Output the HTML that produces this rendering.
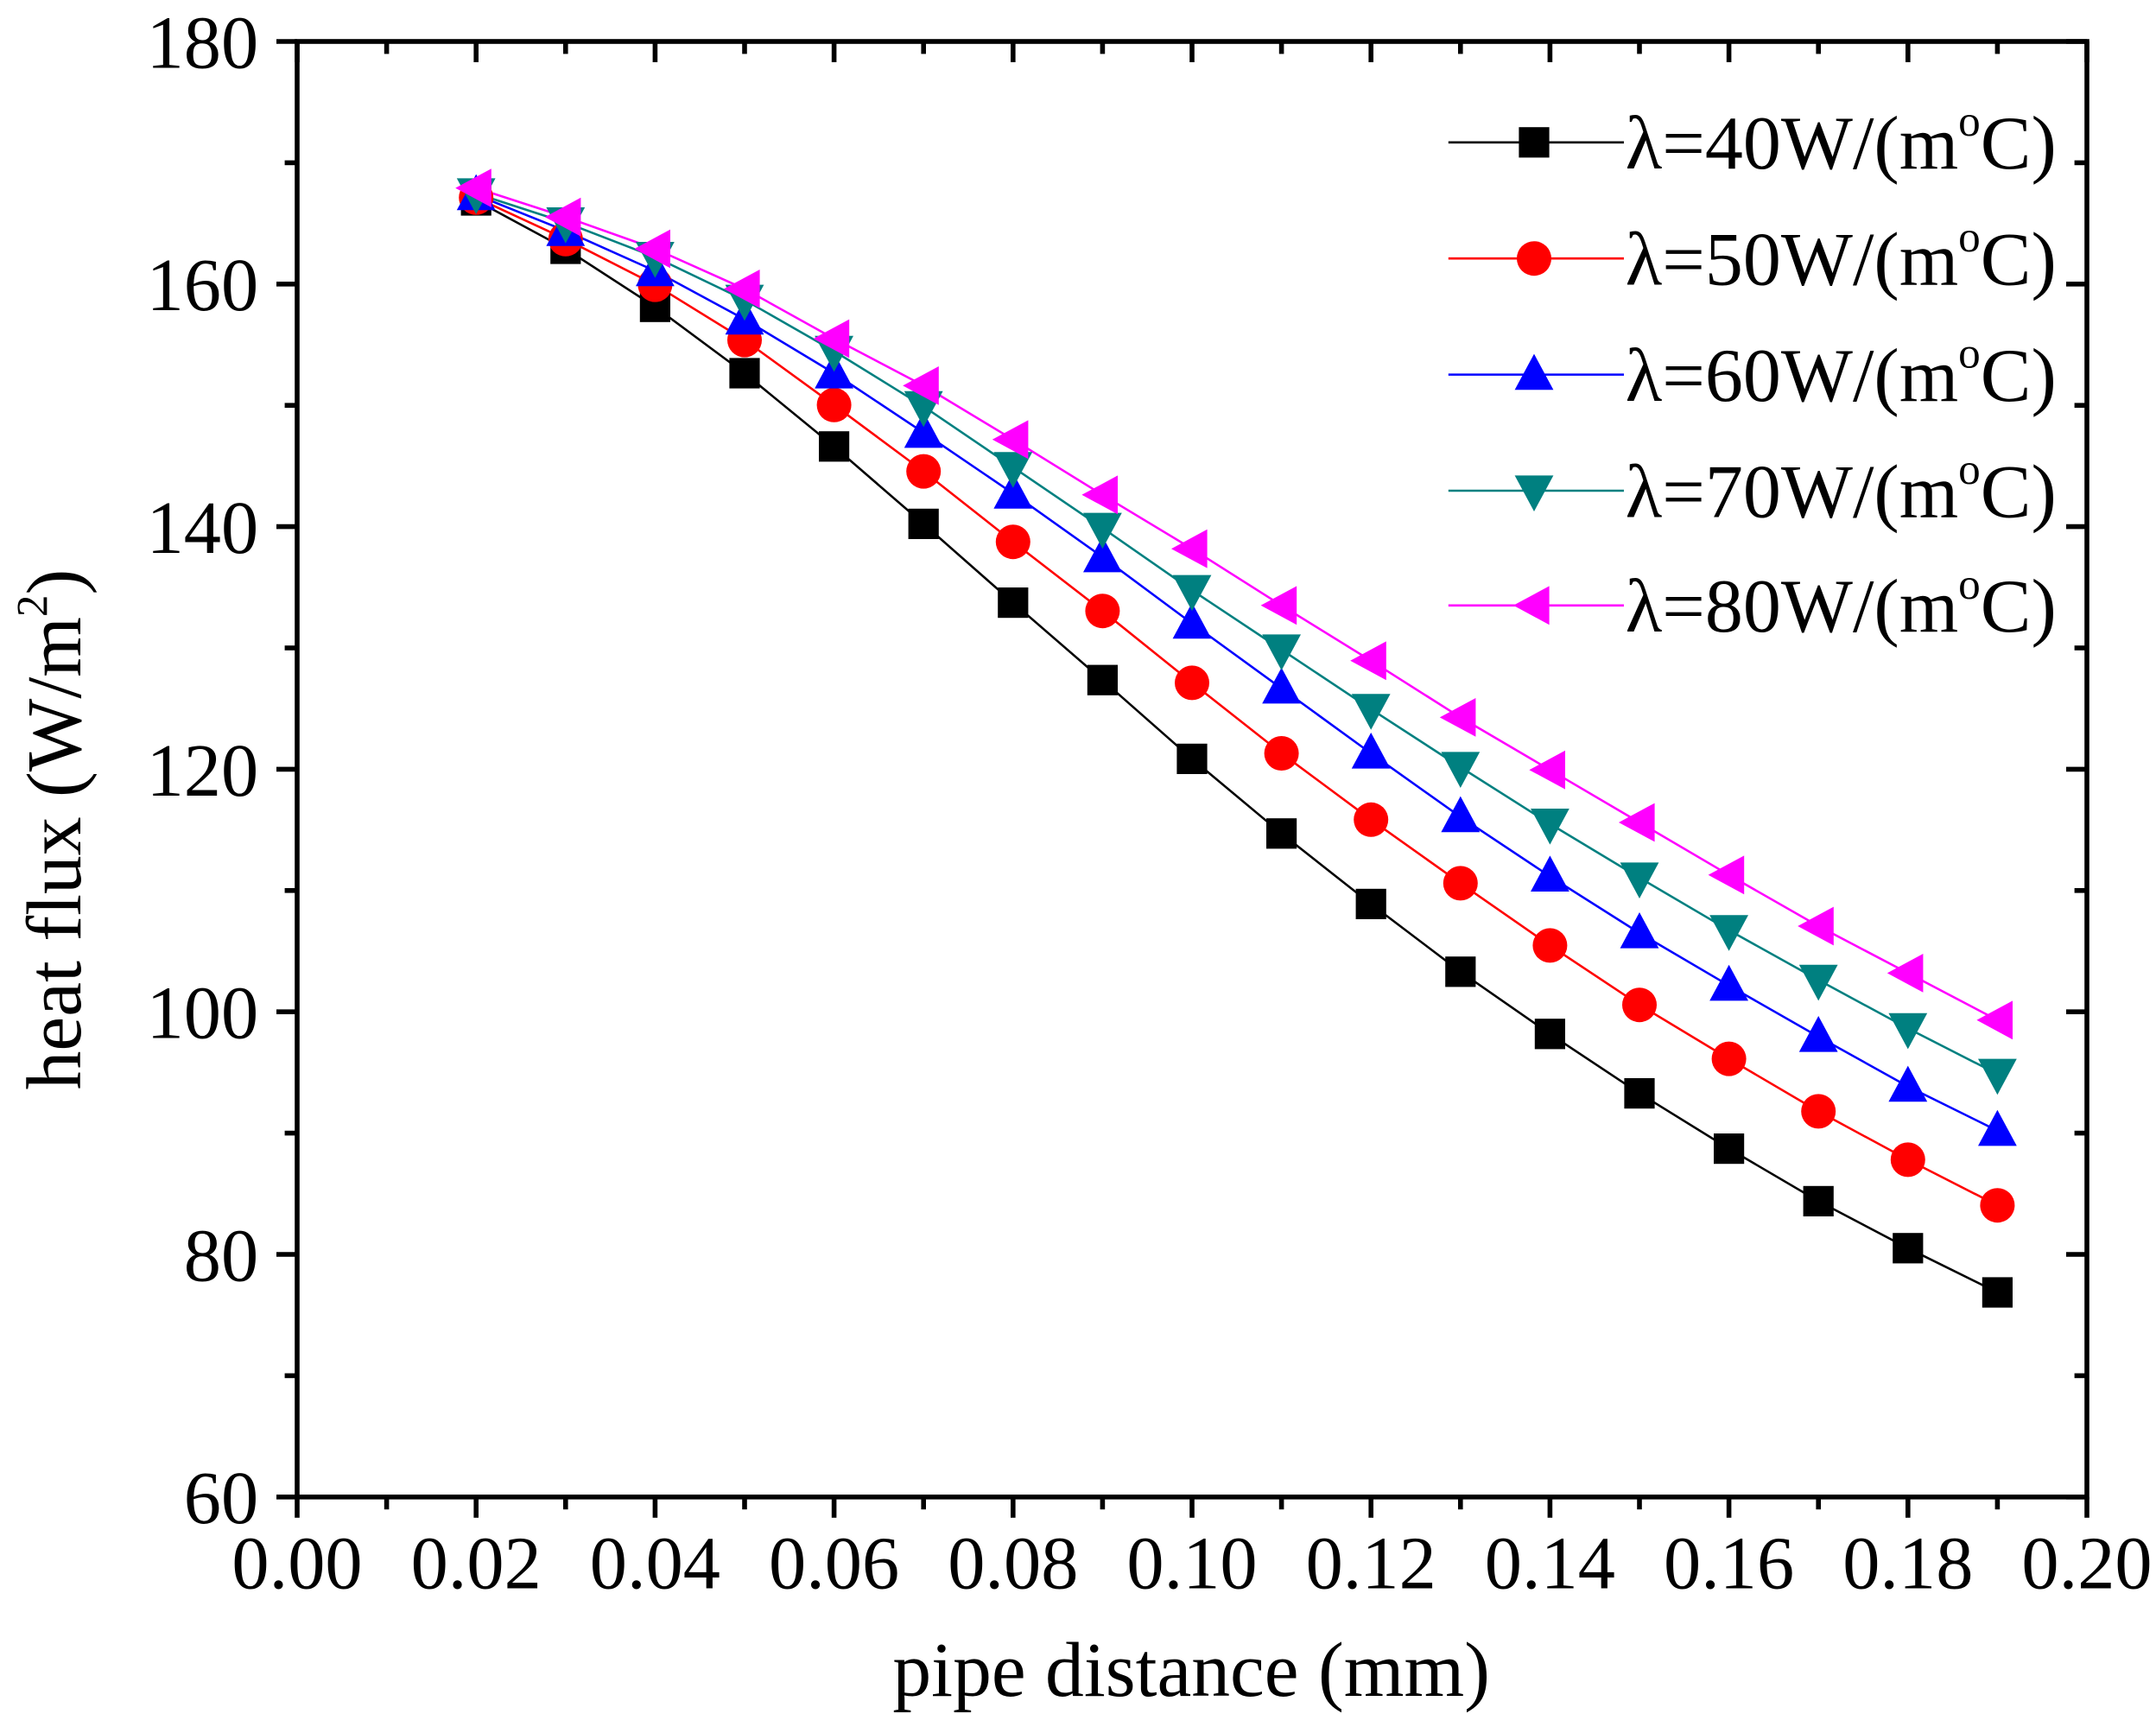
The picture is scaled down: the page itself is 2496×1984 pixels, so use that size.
<!DOCTYPE html>
<html><head><style>html,body{margin:0;padding:0;background:#fff}svg{display:block}</style></head><body>
<svg width="2496" height="1984" viewBox="0 0 1560 1240" xmlns="http://www.w3.org/2000/svg" font-family="'Liberation Serif',serif">
<rect width="1560" height="1240" fill="#fff"/>
<g id="ticks" stroke="#000" stroke-width="3.5">
</g>
<script>
(function(){
var NS="http://www.w3.org/2000/svg",svg=document.querySelector('svg');
function el(t,a,p){var e=document.createElementNS(NS,t);for(var k in a)e.setAttribute(k,a[k]);(p||svg).appendChild(e);return e;}
function ts(p,txt,a){var e=el('tspan',a||{},p);e.textContent=txt;return e;}
var L=215,R=1510,T=30,B=1083;
function X(v){return L+(R-L)*v/0.2;}
function Y(v){return B-(B-T)*(v-60)/120;}
var g=document.getElementById('ticks');
for(var i=0;i<=20;i++){var x=X(i*0.01),maj=i%2==0,len=maj?15:9;
 el('line',{x1:x,y1:B,x2:x,y2:B+len},g);el('line',{x1:x,y1:T,x2:x,y2:T+len},g);
 if(maj){var t=el('text',{x:x,y:B+66,'font-size':54,'text-anchor':'middle'});t.textContent=(i*0.01).toFixed(2);}}
for(var v=60;v<=180;v+=10){var y=Y(v),maj=v%20==0,len=maj?15:9;
 el('line',{x1:L,y1:y,x2:L-len,y2:y},g);el('line',{x1:R,y1:y,x2:R-len,y2:y},g);
 if(maj){var t=el('text',{x:187,y:y+19,'font-size':54,'text-anchor':'end'});t.textContent=v;}}
el('rect',{x:L,y:T,width:R-L,height:B-T,fill:'none',stroke:'#000','stroke-width':3.5});
var data=[
['#000','sq',[145,180,222,270,323,379,436,492,549,603,654,703,748,791,831,869,903,935]],
['#f00','ci',[143,173,206,246,293,341,392,442,494,545,593,639,684,727,766,804,839,872]],
['#00f','up',[141,167,196,231,270,313,357,403,451,498,545,591,634,675,713,750,786,818]],
['#008080','dn',[140,161,186,217,254,294,338,382,427,470,513,555,596,635,673,709,744,777]],
['#f0f','lf',[136,157,180,209,245,279,318,358,397,438,478,519,557,595,633,670,704,738]]];
function mk(type,x,y,c){
 if(type=='sq')el('rect',{x:x-11,y:y-11,width:22,height:22,fill:c});
 else if(type=='ci')el('circle',{cx:x,cy:y,r:12.5,fill:c});
 else if(type=='up')el('polygon',{points:(x)+','+(y-15)+' '+(x-14)+','+(y+11)+' '+(x+14)+','+(y+11),fill:c});
 else if(type=='dn')el('polygon',{points:(x)+','+(y+15)+' '+(x-14)+','+(y-11)+' '+(x+14)+','+(y-11),fill:c});
 else el('polygon',{points:(x-15)+','+y+' '+(x+11)+','+(y-14)+' '+(x+11)+','+(y+14),fill:c});}
data.forEach(function(d){var pts=d[2].map(function(y,i){return X(0.02+i*0.01)+','+y;}).join(' ');
 el('polyline',{points:pts,fill:'none',stroke:d[0],'stroke-width':1.6});});
data.forEach(function(d){d[2].forEach(function(y,i){mk(d[1],X(0.02+i*0.01),y,d[0]);});});
var labels=['40','50','60','70','80'],ly=[103,187,271,355,438];
data.forEach(function(d,i){var y=ly[i];el('line',{x1:1048,y1:y,x2:1175,y2:y,stroke:d[0],'stroke-width':1.6});mk(d[1],1110,y,d[0]);
 var t=el('text',{x:1176,y:y+19,'font-size':55});
 ts(t,'λ='+labels[i]+'W/(m');ts(t,'o',{dy:-24,'font-size':32});ts(t,'C)',{dy:24});});
var xl=el('text',{x:862,y:1227,'font-size':56,'text-anchor':'middle'});xl.setAttribute('xml:space','preserve');xl.textContent='pipe distance  (mm)';
var yl=el('text',{x:0,y:0,'font-size':56,'text-anchor':'middle',transform:'translate(58,600) rotate(-90)'});
ts(yl,'heat flux (W/m');ts(yl,'2',{dy:-24,'font-size':32});ts(yl,')',{dy:24});
})();
</script>
</svg>
</body></html>
